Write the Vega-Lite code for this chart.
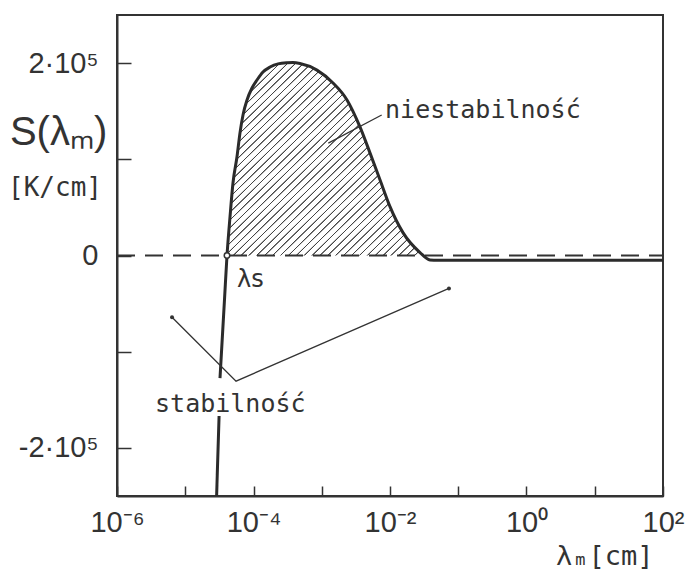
{
  "$schema": "https://vega.github.io/schema/vega-lite/v6.json",
  "width": 546,
  "height": 481,
  "autosize": {"type": "none"},
  "padding": {"left": 117, "top": 15, "right": 31, "bottom": 78},
  "background": "#ffffff",
  "config": {
    "view": {"stroke": "#333333", "strokeWidth": 2},
    "axis": {
      "grid": false,
      "title": null,
      "domainColor": "#333333",
      "domainWidth": 2,
      "tickColor": "#333333",
      "tickWidth": 1.5,
      "labelColor": "#333333",
      "labelFont": "Liberation Sans",
      "labelFontSize": 29,
      "labelOverlap": false,
      "labelFlush": false
    }
  },
  "datasets": {
    "curve": [
      {"lam": 2.88e-5, "S": -250000, "seg": "a"},
      {"lam": 3.13e-5, "S": -166800, "seg": "a"},
      {"lam": 3.23e-5, "S": -127500, "seg": "b"},
      {"lam": 3.76e-5, "S": -45600, "seg": "b"},
      {"lam": 4.09e-5, "S": 0, "seg": "b"},
      {"lam": 4.53e-5, "S": 40400, "seg": "b"},
      {"lam": 5.01e-5, "S": 75600, "seg": "b"},
      {"lam": 5.73e-5, "S": 102600, "seg": "b"},
      {"lam": 6.34e-5, "S": 127500, "seg": "b"},
      {"lam": 7.02e-5, "S": 146100, "seg": "b"},
      {"lam": 8.04e-5, "S": 161700, "seg": "b"},
      {"lam": 9.51e-5, "S": 174100, "seg": "b"},
      {"lam": 1.125e-4, "S": 182400, "seg": "b"},
      {"lam": 1.377e-4, "S": 190700, "seg": "b"},
      {"lam": 1.746e-4, "S": 195900, "seg": "b"},
      {"lam": 2.29e-4, "S": 199200, "seg": "b"},
      {"lam": 3.10e-4, "S": 200300, "seg": "b"},
      {"lam": 3.79e-4, "S": 200500, "seg": "b"},
      {"lam": 4.80e-4, "S": 199500, "seg": "b"},
      {"lam": 8.51e-4, "S": 192700, "seg": "b"},
      {"lam": 1.462e-3, "S": 179300, "seg": "b"},
      {"lam": 2.344e-3, "S": 161700, "seg": "b"},
      {"lam": 3.63e-3, "S": 133700, "seg": "b"},
      {"lam": 5.09e-3, "S": 106700, "seg": "b"},
      {"lam": 7.13e-3, "S": 78800, "seg": "b"},
      {"lam": 1.0e-2, "S": 50800, "seg": "b"},
      {"lam": 1.549e-2, "S": 23800, "seg": "b"},
      {"lam": 2.754e-2, "S": 3100, "seg": "b"},
      {"lam": 3.85e-2, "S": -4600, "seg": "b"},
      {"lam": 5.0e-2, "S": -5000, "seg": "b"},
      {"lam": 100, "S": -5000, "seg": "b"}
    ],
    "hatch": [
      {"lam": 4.09e-5, "S": 0},
      {"lam": 4.53e-5, "S": 40400},
      {"lam": 5.01e-5, "S": 75600},
      {"lam": 5.73e-5, "S": 102600},
      {"lam": 6.34e-5, "S": 127500},
      {"lam": 7.02e-5, "S": 146100},
      {"lam": 8.04e-5, "S": 161700},
      {"lam": 9.51e-5, "S": 174100},
      {"lam": 1.125e-4, "S": 182400},
      {"lam": 1.377e-4, "S": 190700},
      {"lam": 1.746e-4, "S": 195900},
      {"lam": 2.29e-4, "S": 199200},
      {"lam": 3.10e-4, "S": 200300},
      {"lam": 3.79e-4, "S": 200500},
      {"lam": 4.80e-4, "S": 199500},
      {"lam": 8.51e-4, "S": 192700},
      {"lam": 1.462e-3, "S": 179300},
      {"lam": 2.344e-3, "S": 161700},
      {"lam": 3.63e-3, "S": 133700},
      {"lam": 5.09e-3, "S": 106700},
      {"lam": 7.13e-3, "S": 78800},
      {"lam": 1.0e-2, "S": 50800},
      {"lam": 1.549e-2, "S": 23800},
      {"lam": 2.754e-2, "S": 3100},
      {"lam": 3.18e-2, "S": 0}
    ],
    "zero": [
      {"lam": 1e-6, "S": 0},
      {"lam": 100, "S": 0}
    ],
    "leaders": [
      {"lam": 7.55e-3, "S": 146100, "g": "n", "i": 0},
      {"lam": 1.247e-3, "S": 116800, "g": "n", "i": 1},
      {"lam": 6.40e-6, "S": -64250, "g": "s", "i": 0},
      {"lam": 5.55e-5, "S": -130570, "g": "s", "i": 1},
      {"lam": 7.31e-2, "S": -34200, "g": "s", "i": 2}
    ],
    "dots": [
      {"lam": 6.40e-6, "S": -64250},
      {"lam": 7.31e-2, "S": -34200}
    ],
    "lambdaS": [
      {"lam": 4.09e-5, "S": 0, "t": "λs", "tl": 5.73e-5, "ts": -33200}
    ],
    "notes": [
      {"lam": 8.46e-3, "S": 143000, "t": "niestabilność"},
      {"lam": 3.61e-6, "S": -162700, "t": "stabilność"}
    ],
    "ytitle": [
      {"lam": 2.70e-8, "S": 127500, "t": "S(λₘ)"}
    ],
    "yunit": [
      {"lam": 2.53e-8, "S": 70500, "t": "[K/cm]"}
    ],
    "xtitle": [
      {"lam": 2.70, "S": -313000, "t": "λₘ[cm]"}
    ]
  },
  "encoding": {
    "x": {
      "field": "lam",
      "type": "quantitative",
      "scale": {"type": "log", "domain": [1e-6, 100], "nice": false},
      "axis": {
        "values": [1e-6, 1e-5, 1e-4, 1e-3, 1e-2, 1e-1, 1, 10, 100],
        "labelExpr": "datum.value < 2e-6 ? '10⁻⁶' : (datum.value > 5e-5 && datum.value < 2e-4) ? '10⁻⁴' : (datum.value > 5e-3 && datum.value < 2e-2) ? '10⁻²' : (datum.value > 0.5 && datum.value < 2) ? '10⁰' : datum.value > 50 ? '10²' : ''",
        "tickSize": -10,
        "labelPadding": 22
      }
    },
    "y": {
      "field": "S",
      "type": "quantitative",
      "scale": {"domain": [-250000, 250000], "nice": false, "zero": false},
      "axis": {
        "values": [-200000, -100000, 0, 100000, 200000],
        "labelExpr": "datum.value == 0 ? '0' : datum.value == 200000 ? '2·10⁵' : datum.value == -200000 ? '-2·10⁵' : ''",
        "tickSize": -14,
        "labelPadding": 33
      }
    }
  },
  "layer": [
    {
      "data": {"name": "hatch"},
      "mark": {
        "type": "area",
        "interpolate": "monotone",
        "fill": {
          "gradient": "linear",
          "x1": 0, "y1": 0, "x2": 1, "y2": 1,
          "stops": [
            {"offset": 0.013, "color": "#fff"}, {"offset": 0.0145, "color": "#444"}, {"offset": 0.0165, "color": "#444"}, {"offset": 0.018, "color": "#fff"},
            {"offset": 0.033, "color": "#fff"}, {"offset": 0.0345, "color": "#444"}, {"offset": 0.0365, "color": "#444"}, {"offset": 0.038, "color": "#fff"},
            {"offset": 0.053, "color": "#fff"}, {"offset": 0.0545, "color": "#444"}, {"offset": 0.0565, "color": "#444"}, {"offset": 0.058, "color": "#fff"},
            {"offset": 0.073, "color": "#fff"}, {"offset": 0.0745, "color": "#444"}, {"offset": 0.0765, "color": "#444"}, {"offset": 0.078, "color": "#fff"},
            {"offset": 0.093, "color": "#fff"}, {"offset": 0.0945, "color": "#444"}, {"offset": 0.0965, "color": "#444"}, {"offset": 0.098, "color": "#fff"},
            {"offset": 0.113, "color": "#fff"}, {"offset": 0.1145, "color": "#444"}, {"offset": 0.1165, "color": "#444"}, {"offset": 0.118, "color": "#fff"},
            {"offset": 0.133, "color": "#fff"}, {"offset": 0.1345, "color": "#444"}, {"offset": 0.1365, "color": "#444"}, {"offset": 0.138, "color": "#fff"},
            {"offset": 0.153, "color": "#fff"}, {"offset": 0.1545, "color": "#444"}, {"offset": 0.1565, "color": "#444"}, {"offset": 0.158, "color": "#fff"},
            {"offset": 0.173, "color": "#fff"}, {"offset": 0.1745, "color": "#444"}, {"offset": 0.1765, "color": "#444"}, {"offset": 0.178, "color": "#fff"},
            {"offset": 0.193, "color": "#fff"}, {"offset": 0.1945, "color": "#444"}, {"offset": 0.1965, "color": "#444"}, {"offset": 0.198, "color": "#fff"},
            {"offset": 0.213, "color": "#fff"}, {"offset": 0.2145, "color": "#444"}, {"offset": 0.2165, "color": "#444"}, {"offset": 0.218, "color": "#fff"},
            {"offset": 0.233, "color": "#fff"}, {"offset": 0.2345, "color": "#444"}, {"offset": 0.2365, "color": "#444"}, {"offset": 0.238, "color": "#fff"},
            {"offset": 0.253, "color": "#fff"}, {"offset": 0.2545, "color": "#444"}, {"offset": 0.2565, "color": "#444"}, {"offset": 0.258, "color": "#fff"},
            {"offset": 0.273, "color": "#fff"}, {"offset": 0.2745, "color": "#444"}, {"offset": 0.2765, "color": "#444"}, {"offset": 0.278, "color": "#fff"},
            {"offset": 0.293, "color": "#fff"}, {"offset": 0.2945, "color": "#444"}, {"offset": 0.2965, "color": "#444"}, {"offset": 0.298, "color": "#fff"},
            {"offset": 0.313, "color": "#fff"}, {"offset": 0.3145, "color": "#444"}, {"offset": 0.3165, "color": "#444"}, {"offset": 0.318, "color": "#fff"},
            {"offset": 0.333, "color": "#fff"}, {"offset": 0.3345, "color": "#444"}, {"offset": 0.3365, "color": "#444"}, {"offset": 0.338, "color": "#fff"},
            {"offset": 0.353, "color": "#fff"}, {"offset": 0.3545, "color": "#444"}, {"offset": 0.3565, "color": "#444"}, {"offset": 0.358, "color": "#fff"},
            {"offset": 0.373, "color": "#fff"}, {"offset": 0.3745, "color": "#444"}, {"offset": 0.3765, "color": "#444"}, {"offset": 0.378, "color": "#fff"},
            {"offset": 0.393, "color": "#fff"}, {"offset": 0.3945, "color": "#444"}, {"offset": 0.3965, "color": "#444"}, {"offset": 0.398, "color": "#fff"},
            {"offset": 0.413, "color": "#fff"}, {"offset": 0.4145, "color": "#444"}, {"offset": 0.4165, "color": "#444"}, {"offset": 0.418, "color": "#fff"},
            {"offset": 0.433, "color": "#fff"}, {"offset": 0.4345, "color": "#444"}, {"offset": 0.4365, "color": "#444"}, {"offset": 0.438, "color": "#fff"},
            {"offset": 0.453, "color": "#fff"}, {"offset": 0.4545, "color": "#444"}, {"offset": 0.4565, "color": "#444"}, {"offset": 0.458, "color": "#fff"},
            {"offset": 0.473, "color": "#fff"}, {"offset": 0.4745, "color": "#444"}, {"offset": 0.4765, "color": "#444"}, {"offset": 0.478, "color": "#fff"},
            {"offset": 0.493, "color": "#fff"}, {"offset": 0.4945, "color": "#444"}, {"offset": 0.4965, "color": "#444"}, {"offset": 0.498, "color": "#fff"},
            {"offset": 0.513, "color": "#fff"}, {"offset": 0.5145, "color": "#444"}, {"offset": 0.5165, "color": "#444"}, {"offset": 0.518, "color": "#fff"},
            {"offset": 0.533, "color": "#fff"}, {"offset": 0.5345, "color": "#444"}, {"offset": 0.5365, "color": "#444"}, {"offset": 0.538, "color": "#fff"},
            {"offset": 0.553, "color": "#fff"}, {"offset": 0.5545, "color": "#444"}, {"offset": 0.5565, "color": "#444"}, {"offset": 0.558, "color": "#fff"},
            {"offset": 0.573, "color": "#fff"}, {"offset": 0.5745, "color": "#444"}, {"offset": 0.5765, "color": "#444"}, {"offset": 0.578, "color": "#fff"},
            {"offset": 0.593, "color": "#fff"}, {"offset": 0.5945, "color": "#444"}, {"offset": 0.5965, "color": "#444"}, {"offset": 0.598, "color": "#fff"},
            {"offset": 0.613, "color": "#fff"}, {"offset": 0.6145, "color": "#444"}, {"offset": 0.6165, "color": "#444"}, {"offset": 0.618, "color": "#fff"},
            {"offset": 0.633, "color": "#fff"}, {"offset": 0.6345, "color": "#444"}, {"offset": 0.6365, "color": "#444"}, {"offset": 0.638, "color": "#fff"},
            {"offset": 0.653, "color": "#fff"}, {"offset": 0.6545, "color": "#444"}, {"offset": 0.6565, "color": "#444"}, {"offset": 0.658, "color": "#fff"},
            {"offset": 0.673, "color": "#fff"}, {"offset": 0.6745, "color": "#444"}, {"offset": 0.6765, "color": "#444"}, {"offset": 0.678, "color": "#fff"},
            {"offset": 0.693, "color": "#fff"}, {"offset": 0.6945, "color": "#444"}, {"offset": 0.6965, "color": "#444"}, {"offset": 0.698, "color": "#fff"},
            {"offset": 0.713, "color": "#fff"}, {"offset": 0.7145, "color": "#444"}, {"offset": 0.7165, "color": "#444"}, {"offset": 0.718, "color": "#fff"},
            {"offset": 0.733, "color": "#fff"}, {"offset": 0.7345, "color": "#444"}, {"offset": 0.7365, "color": "#444"}, {"offset": 0.738, "color": "#fff"},
            {"offset": 0.753, "color": "#fff"}, {"offset": 0.7545, "color": "#444"}, {"offset": 0.7565, "color": "#444"}, {"offset": 0.758, "color": "#fff"},
            {"offset": 0.773, "color": "#fff"}, {"offset": 0.7745, "color": "#444"}, {"offset": 0.7765, "color": "#444"}, {"offset": 0.778, "color": "#fff"},
            {"offset": 0.793, "color": "#fff"}, {"offset": 0.7945, "color": "#444"}, {"offset": 0.7965, "color": "#444"}, {"offset": 0.798, "color": "#fff"},
            {"offset": 0.813, "color": "#fff"}, {"offset": 0.8145, "color": "#444"}, {"offset": 0.8165, "color": "#444"}, {"offset": 0.818, "color": "#fff"},
            {"offset": 0.833, "color": "#fff"}, {"offset": 0.8345, "color": "#444"}, {"offset": 0.8365, "color": "#444"}, {"offset": 0.838, "color": "#fff"},
            {"offset": 0.853, "color": "#fff"}, {"offset": 0.8545, "color": "#444"}, {"offset": 0.8565, "color": "#444"}, {"offset": 0.858, "color": "#fff"},
            {"offset": 0.873, "color": "#fff"}, {"offset": 0.8745, "color": "#444"}, {"offset": 0.8765, "color": "#444"}, {"offset": 0.878, "color": "#fff"},
            {"offset": 0.893, "color": "#fff"}, {"offset": 0.8945, "color": "#444"}, {"offset": 0.8965, "color": "#444"}, {"offset": 0.898, "color": "#fff"},
            {"offset": 0.913, "color": "#fff"}, {"offset": 0.9145, "color": "#444"}, {"offset": 0.9165, "color": "#444"}, {"offset": 0.918, "color": "#fff"},
            {"offset": 0.933, "color": "#fff"}, {"offset": 0.9345, "color": "#444"}, {"offset": 0.9365, "color": "#444"}, {"offset": 0.938, "color": "#fff"},
            {"offset": 0.953, "color": "#fff"}, {"offset": 0.9545, "color": "#444"}, {"offset": 0.9565, "color": "#444"}, {"offset": 0.958, "color": "#fff"},
            {"offset": 0.973, "color": "#fff"}, {"offset": 0.9745, "color": "#444"}, {"offset": 0.9765, "color": "#444"}, {"offset": 0.978, "color": "#fff"},
            {"offset": 0.993, "color": "#fff"}, {"offset": 0.9945, "color": "#444"}, {"offset": 0.9965, "color": "#444"}, {"offset": 0.998, "color": "#fff"}
          ]
        }
      },
      "encoding": {"y2": {"datum": 0}}
    },
    {
      "data": {"name": "zero"},
      "mark": {"type": "line", "color": "#333333", "strokeWidth": 2, "strokeDash": [18, 10]},
      "encoding": {}
    },
    {
      "data": {"name": "curve"},
      "mark": {"type": "line", "color": "#2b2b2b", "strokeWidth": 3, "interpolate": "monotone"},
      "encoding": {"detail": {"field": "seg"}}
    },
    {
      "data": {"name": "leaders"},
      "mark": {"type": "line", "color": "#333333", "strokeWidth": 1.3},
      "encoding": {"detail": {"field": "g"}, "order": {"field": "i", "type": "quantitative"}}
    },
    {
      "data": {"name": "dots"},
      "mark": {"type": "point", "filled": true, "color": "#333333", "size": 16, "opacity": 1}
    },
    {
      "data": {"name": "lambdaS"},
      "mark": {"type": "point", "shape": "circle", "filled": true, "fill": "#ffffff", "stroke": "#333333", "strokeWidth": 1.5, "size": 30, "opacity": 1}
    },
    {
      "data": {"name": "lambdaS"},
      "mark": {"type": "text", "font": "DejaVu Sans", "fontSize": 24, "color": "#333333", "align": "left", "baseline": "alphabetic"},
      "encoding": {
        "x": {"field": "tl", "type": "quantitative"},
        "y": {"field": "ts", "type": "quantitative"},
        "text": {"field": "t"}
      }
    },
    {
      "data": {"name": "notes"},
      "mark": {"type": "text", "font": "DejaVu Sans Mono", "fontSize": 25, "color": "#333333", "align": "left", "baseline": "alphabetic"},
      "encoding": {"text": {"field": "t"}}
    },
    {
      "data": {"name": "ytitle"},
      "mark": {"type": "text", "font": "Liberation Sans", "fontSize": 40, "color": "#333333", "align": "left", "baseline": "middle"},
      "encoding": {"text": {"field": "t"}}
    },
    {
      "data": {"name": "yunit"},
      "mark": {"type": "text", "font": "DejaVu Sans Mono", "fontSize": 26, "color": "#333333", "align": "left", "baseline": "middle"},
      "encoding": {"text": {"field": "t"}}
    },
    {
      "data": {"name": "xtitle"},
      "mark": {"type": "text", "font": "DejaVu Sans Mono", "fontSize": 27, "color": "#333333", "align": "left", "baseline": "middle"},
      "encoding": {"text": {"field": "t"}}
    }
  ]
}
